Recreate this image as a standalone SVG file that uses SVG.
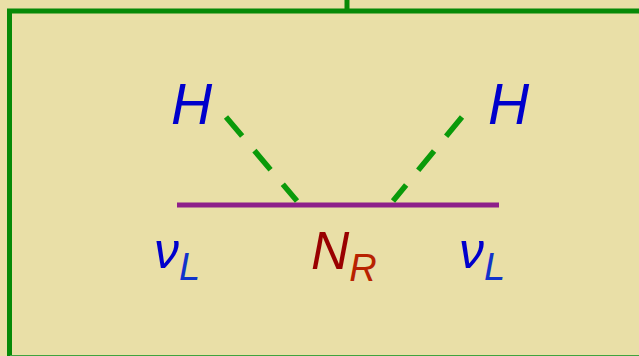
<svg xmlns="http://www.w3.org/2000/svg" width="639" height="356" viewBox="0 0 639 356">
<style>
.frame{fill:none;stroke:#078A07;stroke-width:5}
.dash{stroke:#0A9A0A;stroke-width:5.5;stroke-dasharray:25 19;fill:none}
.t{font-family:"Liberation Sans",Arial,sans-serif;font-style:italic}
</style>
<rect width="639" height="356" fill="#E9DFA7"/>
<g id="frame">
<path class="frame" d="M9.5,358 V11 H642"/>
<line x1="347" y1="0" x2="347" y2="11" class="frame"/>
<line x1="10" y1="355.5" x2="639" y2="355.5" stroke="#3FA33F" stroke-width="1"/>
</g>
<g id="connectors">
<line x1="177" y1="205" x2="499" y2="205" stroke="#8E1F8A" stroke-width="5"/>
<line class="dash" x1="226" y1="117" x2="297" y2="201"/>
<line class="dash" x1="462" y1="117" x2="393" y2="201"/>
</g>
<g id="H-left"><text class="t" x="171" y="124" font-size="57" fill="#0000CC">H</text></g>
<g id="H-right"><text class="t" x="488" y="124" font-size="57" fill="#0000CC">H</text></g>
<g id="nuL-left"><text class="t" x="154" y="268" font-size="50" fill="#0000CC">ν<tspan font-size="38" dy="12" fill="#1133CC">L</tspan></text></g>
<g id="NR"><text class="t" x="311" y="269" font-size="53" fill="#990000">N<tspan font-size="38" dy="12" fill="#B82200">R</tspan></text></g>
<g id="nuL-right"><text class="t" x="459" y="268" font-size="50" fill="#0000CC">ν<tspan font-size="38" dy="12" fill="#1133CC">L</tspan></text></g>
</svg>
